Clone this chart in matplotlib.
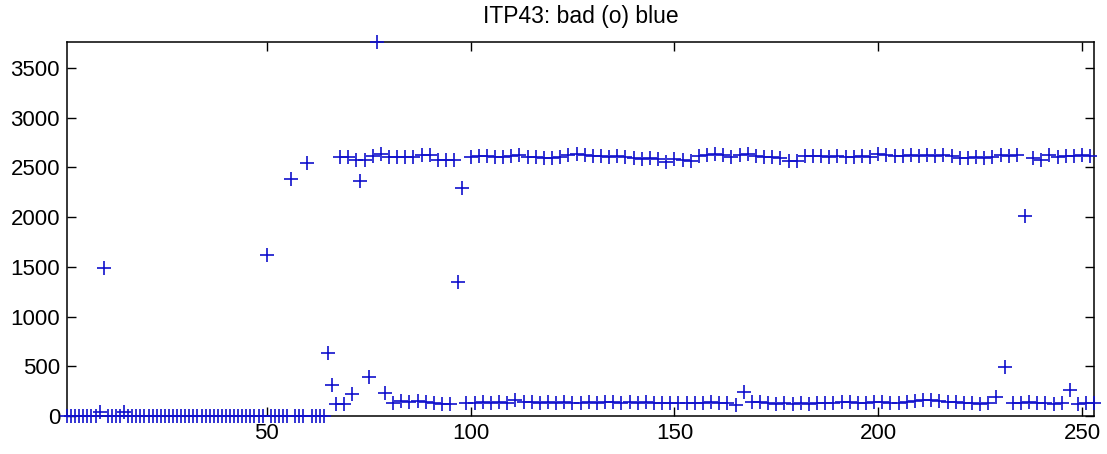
import numpy as np
import matplotlib
matplotlib.use('Agg')
import matplotlib.pyplot as plt

plt.rcParams['font.family'] = ['Liberation Sans', 'DejaVu Sans']

# profiles 1..66 (before the up/down alternation settles)
head = [0, 0, 0, 0, 0, 0, 0, 0, 45, 1490,
        0, 0, 0, 0, 45, 0, 0, 0, 0, 0,
        0, 0, 0, 0, 0, 0, 0, 0, 0, 0,
        0, 0, 0, 0, 0, 0, 0, 0, 0, 0,
        0, 0, 0, 0, 0, 0, 0, 0, 0, 1615,
        0, 0, 0, 0, 0, 2385, 0, 0, 0, 2540,
        0, 0, 0, 0, 635, 310]

# odd profiles 67, 69, ..., 253
odd_vals = [120, 125, 225, 2360, 390, 3760, 230, 130, 150, 140,
            150, 140, 130, 120, 120, 1345, 130, 135, 140, 135,
            140, 135, 160, 145, 140, 135, 140, 135, 140, 135,
            135, 140, 135, 140, 140, 135, 140, 135, 140, 135,
            130, 135, 130, 135, 130, 135, 140, 130, 135, 110,
            245, 140, 145, 135, 125, 130, 125, 130, 125, 130,
            130, 135, 140, 140, 135, 135, 140, 140, 135, 135,
            145, 150, 160, 160, 155, 145, 140, 130, 130, 125,
            130, 195, 495, 130, 135, 140, 135, 130, 125, 130,
            265, 125, 130, 130]

# even profiles 68, 70, ..., 252
even_vals = [2605, 2600, 2570, 2575, 2610, 2635, 2600, 2600, 2605, 2600,
             2620, 2625, 2570, 2570, 2575, 2290, 2600, 2610, 2610, 2605,
             2600, 2615, 2620, 2600, 2600, 2595, 2590, 2600, 2625, 2630,
             2620, 2615, 2610, 2605, 2610, 2600, 2590, 2585, 2590, 2580,
             2550, 2580, 2570, 2560, 2610, 2625, 2630, 2625, 2605, 2620,
             2630, 2615, 2600, 2605, 2590, 2560, 2565, 2610, 2615, 2610,
             2605, 2610, 2600, 2605, 2610, 2605, 2635, 2620, 2615, 2615,
             2620, 2615, 2620, 2615, 2620, 2610, 2595, 2590, 2600, 2595,
             2600, 2620, 2615, 2620, 2010, 2590, 2575, 2620, 2605, 2610,
             2615, 2620, 2615]

odd_x = np.arange(67, 254, 2)
even_x = np.arange(68, 253, 2)

n = 253
prof = np.arange(1, n + 1)
val = np.zeros(n)
val[:len(head)] = head
val[odd_x - 1] = odd_vals
val[even_x - 1] = even_vals

fig = plt.figure(figsize=(11.07, 4.54), dpi=100)
ax = fig.add_axes([0.0605, 0.0837, 0.928, 0.8238])
ax.plot(prof, val, '+', color='#1010cc', markersize=9.6, markeredgewidth=1.2,
        clip_on=False, zorder=3)

ax.set_xlim(1, 253)
ax.set_ylim(0, 3760)
ax.set_xticks([50, 100, 150, 200, 250])
ax.set_yticks(np.arange(0, 3501, 500))
ax.tick_params(direction='in', length=6.5, width=1, top=True, right=True,
               labelsize=16, pad=5)
for s in ax.spines.values():
    s.set_linewidth(1.1)
ax.set_title('ITP43: bad (o) blue', fontsize=16.5, pad=14)

plt.savefig('out.png', dpi=100)
